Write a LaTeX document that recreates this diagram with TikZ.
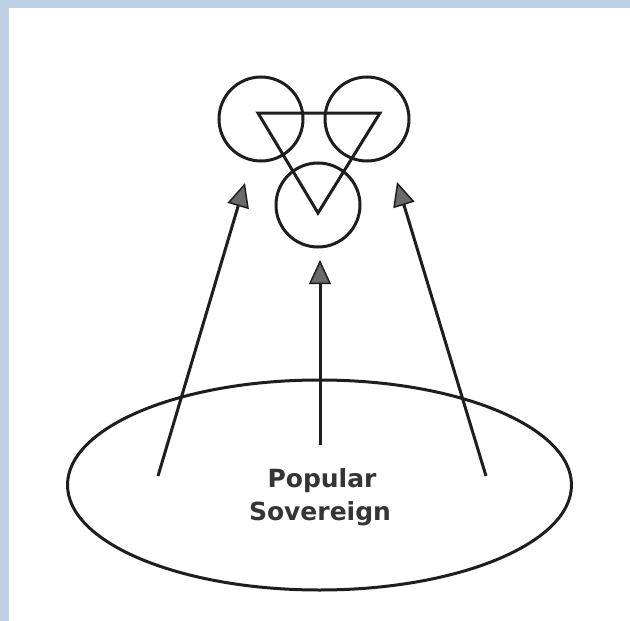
\documentclass[tikz,border=0pt]{standalone}
\usepackage{fontspec}
\setmainfont{DejaVu Sans}
\usetikzlibrary{arrows.meta,shapes.geometric}
\definecolor{frameblue}{HTML}{BDD0E4}
\definecolor{inkgray}{HTML}{1E1E1E}
\definecolor{tipgray}{HTML}{6A6A6A}
\tikzset{
  ink/.style={draw=inkgray, line width=3pt},
  ring/.style={ink, circle, minimum size=84pt, inner sep=0pt},
  uparrow/.style={ink, -{Triangle[length=24pt, width=22pt, fill=tipgray, line width=1.5pt]}},
  label/.style={font=\fontsize{25pt}{30pt}\selectfont\bfseries, text=inkgray!90!white, anchor=base, inner sep=0pt}
}
\begin{document}
\begin{tikzpicture}[x=1pt, y=-1pt]
  \useasboundingbox (0,0) rectangle (630,621);
  \fill[white] (0,0) rectangle (630,621);
  \fill[frameblue] (0,0) rectangle (630,8);
  \fill[frameblue] (0,0) rectangle (9,621);
  % circles
  \node[ring] (c1) at (261,119) {};
  \node[ring] (c2) at (367,119) {};
  \node[ring] (c3) at (318,205) {};
  % triangle
  \coordinate (t1) at (258,113);
  \coordinate (t2) at (380,113);
  \coordinate (t3) at (318,213);
  \draw[ink, line join=miter] (t1) -- (t2) -- (t3) -- cycle;
  % ellipse
  \node[ink, ellipse, minimum width=504pt, minimum height=210pt, inner sep=0pt] (pop) at (319.5,485) {};
  % arrows
  \coordinate (a1s) at (158,476);
  \coordinate (a1e) at (245,183);
  \coordinate (a2s) at (320,445);
  \coordinate (a2e) at (320,260);
  \coordinate (a3s) at (486,476);
  \coordinate (a3e) at (397,182);
  \draw[uparrow] (a1s) -- (a1e);
  \draw[uparrow] (a2s) -- (a2e);
  \draw[uparrow] (a3s) -- (a3e);
  % text
  \node[label] (l1) at (322,487) {Popular};
  \node[label] (l2) at (320,520) {Sovereign};
\end{tikzpicture}
\end{document}
